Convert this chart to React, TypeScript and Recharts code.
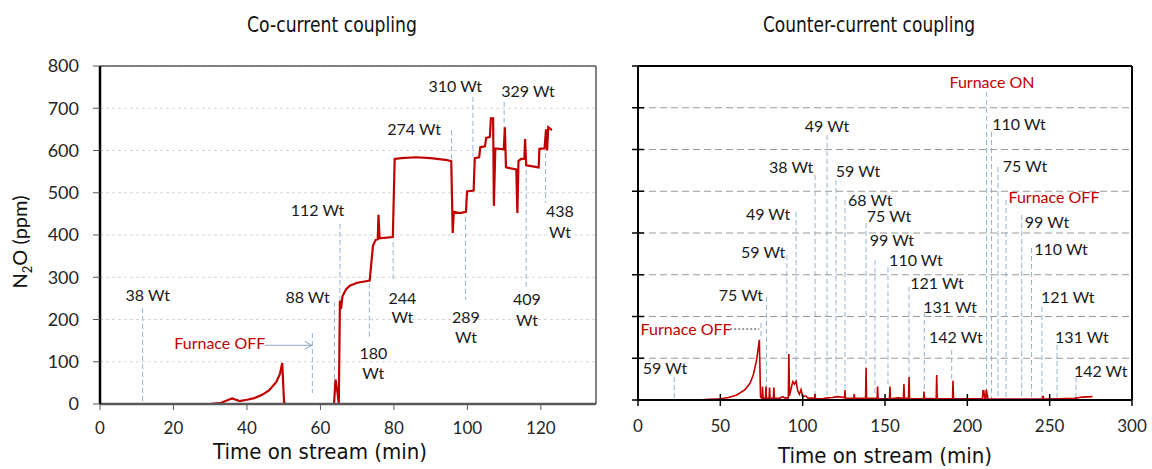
import React from "react";
import {
  LineChart,
  Line,
  XAxis,
  YAxis,
  CartesianGrid,
  ReferenceLine,
  ReferenceDot,
} from "recharts";

// co-current coupling: time on stream (min) / N2O (ppm)
const coTime = [
  12, 30, 33, 35, 36, 37, 38, 40, 42, 44, 46, 48, 49, 49.6, 50.1, 50.6, 63.7, 64.1, 64.6, 65.0,
  65.3, 65.6, 66, 67, 68, 70, 72, 73.4, 74.3, 75, 75.6, 75.8, 76.1, 79.7, 80.2, 82, 86, 90, 94,
  95.6, 96, 96.3, 98, 99.6, 99.9, 101.7, 102, 103.2, 103.5, 104.8, 105.1, 106.1, 106.4, 107,
  107.2, 107.6, 109.9, 110.2, 110.5, 113.3, 113.6, 113.9, 114.6, 115.5, 115.7, 116, 119.4, 119.6,
  121, 121.4, 121.7, 122, 123,
];
const coN2O = [
  0, 0, 3, 10, 13, 10, 7, 10, 14, 21, 32, 52, 72, 97, 3, 0, 0, 58, 30, 0,
  245, 225, 255, 272, 280, 287, 290, 292, 375, 388, 390, 448, 392, 395, 580, 582, 584, 582, 578,
  575, 405, 455, 452, 455, 503, 505, 582, 584, 608, 610, 630, 632, 676, 676,
  469, 605, 603, 655, 560, 555, 452, 575, 580, 580, 627, 565, 560, 604,
  605, 650, 600, 655, 648,
];

// counter-current coupling
const ctrTime = [
  20, 40, 50, 55, 60, 65, 68, 70, 72, 73.7, 74.4, 75.3,
  75.6, 76, 77.4, 77.7, 78, 79.6, 79.9, 80.2, 82.2, 82.5, 82.8,
  86, 88, 89, 91.3, 91.6, 92, 93, 94, 95, 96, 97, 98, 99, 100, 102, 103,
  107.2, 107.5, 107.8, 112, 115, 118, 121, 125.4, 125.7, 126, 131, 131.3, 131.6,
  138.2, 138.5, 138.8, 145.2, 145.5, 145.8, 152.7, 153, 153.3, 158, 161.2, 161.5, 161.8,
  164.3, 164.6, 164.9, 173.4, 173.7, 174, 181.1, 181.4, 181.7, 191, 191.3, 191.6,
  209.2, 209.5, 210, 210.5, 211.2, 211.5, 212.5, 230, 245.7, 246, 246.3, 255, 265, 270, 276,
];
const ctrN2O = [
  0, 1, 3, 6, 12, 25, 40, 60, 95, 144, 8, 3,
  32, 4, 4, 32, 4, 4, 30, 4, 4, 30, 4,
  4, 8, 5, 5, 110, 10, 28, 44, 38, 45, 22, 14, 25, 8, 10, 5,
  4, 15, 3, 3, 5, 6, 8, 6, 24, 4, 4, 14, 4,
  4, 77, 4, 4, 32, 3, 3, 32, 3, 5, 4, 38, 4,
  4, 55, 3, 3, 20, 4, 3, 60, 3, 3, 46, 3,
  3, 22, 22, 4, 4, 25, 3, 2, 2, 10, 2, 3, 4, 7, 8,
];

const yTicks = [0, 100, 200, 300, 400, 500, 600, 700, 800];
const coXTicks = [0, 20, 40, 60, 80, 100, 120];
const ctrXTicks = [0, 50, 100, 150, 200, 250, 300];

// marker lines: time, from, to (ppm)
const coMarkers = [
  { t: 11.6, from: 227, to: 0 },
  { t: 57.8, from: 168, to: 26 },
  { t: 63.8, from: 241, to: 0 },
  { t: 65.3, from: 426, to: 246 },
  { t: 73.3, from: 285, to: 158 },
  { t: 79.8, from: 383, to: 289 },
  { t: 95.7, from: 648, to: 573 },
  { t: 99.5, from: 443, to: 246 },
  { t: 101.5, from: 727, to: 585 },
  { t: 110, from: 715, to: 648 },
  { t: 116, from: 554, to: 270 },
  { t: 121.3, from: 594, to: 476 },
];
const coLabels = [
  { t: 13, v: 258, text: "38 Wt" },
  { t: 32.6, v: 144, text: "Furnace OFF", red: true },
  { t: 56.5, v: 253, text: "88 Wt" },
  { t: 59.2, v: 459, text: "112 Wt" },
  { t: 74.4, v: 121, text: "180" },
  { t: 74.4, v: 73, text: "Wt" },
  { t: 82.3, v: 251, text: "244" },
  { t: 82.3, v: 204, text: "Wt" },
  { t: 85.5, v: 651, text: "274 Wt" },
  { t: 99.6, v: 206, text: "289" },
  { t: 99.6, v: 159, text: "Wt" },
  { t: 96.7, v: 753, text: "310 Wt" },
  { t: 116.5, v: 741, text: "329 Wt" },
  { t: 116.2, v: 248, text: "409" },
  { t: 116.2, v: 199, text: "Wt" },
  { t: 125.2, v: 457, text: "438" },
  { t: 125.2, v: 407, text: "Wt" },
];
const coArrow = { from: 44.8, to: 57.6, v: 139 };

const ctrMarkers = [
  { t: 22, from: 55, to: 0 },
  { t: 74.7, from: 184, to: 144 },
  { t: 78, from: 247, to: 24 },
  { t: 90.4, from: 347, to: 110 },
  { t: 96, from: 450, to: 53 },
  { t: 107.5, from: 539, to: 12 },
  { t: 114.8, from: 635, to: 12 },
  { t: 120.2, from: 527, to: 10 },
  { t: 125.7, from: 479, to: 24 },
  { t: 138.5, from: 424, to: 77 },
  { t: 143.9, from: 335, to: 10 },
  { t: 151.8, from: 318, to: 32 },
  { t: 164.6, from: 271, to: 55 },
  { t: 173.9, from: 211, to: 20 },
  { t: 190.5, from: 120, to: 46 },
  { t: 211.7, from: 738, to: 0 },
  { t: 214.7, from: 642, to: 0 },
  { t: 218.6, from: 558, to: 0 },
  { t: 223.5, from: 479, to: 0 },
  { t: 233, from: 443, to: 0 },
  { t: 239, from: 364, to: 0 },
  { t: 245.3, from: 223, to: 0 },
  { t: 254.5, from: 132, to: 0 },
  { t: 266, from: 55, to: 0 },
];
const ctrLabels = [
  { t: 16.4, v: 77, text: "59 Wt" },
  { t: 29.2, v: 170, text: "Furnace OFF", red: true },
  { t: 62.5, v: 251, text: "75 Wt" },
  { t: 76, v: 354, text: "59 Wt" },
  { t: 79, v: 445, text: "49 Wt" },
  { t: 93, v: 558, text: "38 Wt" },
  { t: 114.8, v: 656, text: "49 Wt" },
  { t: 133.6, v: 548, text: "59 Wt" },
  { t: 141, v: 479, text: "68 Wt" },
  { t: 152.4, v: 441, text: "75 Wt" },
  { t: 154.2, v: 383, text: "99 Wt" },
  { t: 168.8, v: 335, text: "110 Wt" },
  { t: 181.6, v: 280, text: "121 Wt" },
  { t: 189.5, v: 223, text: "131 Wt" },
  { t: 193, v: 149, text: "142 Wt" },
  { t: 215, v: 762, text: "Furnace ON", red: true },
  { t: 231.4, v: 661, text: "110 Wt" },
  { t: 235, v: 560, text: "75 Wt" },
  { t: 252.6, v: 486, text: "Furnace OFF", red: true },
  { t: 248.4, v: 426, text: "99 Wt" },
  { t: 256.9, v: 362, text: "110 Wt" },
  { t: 261, v: 247, text: "121 Wt" },
  { t: 269.6, v: 151, text: "131 Wt" },
  { t: 281, v: 69, text: "142 Wt" },
];
const ctrOffLine = { from: 56, to: 73.7, v: 170 };

const coData = coTime.map((t, i) => ({ t, v: coN2O[i] }));
const ctrData = ctrTime.map((t, i) => ({ t, v: ctrN2O[i] }));

const FONT = "Lato, 'Open Sans', sans-serif";
const COND = "'DejaVu Sans Condensed', 'DejaVu Sans', sans-serif";
const RED = "#c00000";
const MARK = "#93b3d3";
const tickStyle = { fill: "#262626", fontSize: 17, fontFamily: FONT };

function labelDots(labels: { t: number; v: number; text: string; red?: boolean }[]) {
  return labels.map((l, i) => (
    <ReferenceDot
      key={"l" + i}
      x={l.t}
      y={l.v}
      r={0.5}
      fill="none"
      stroke="none"
      label={{
        value: l.text,
        position: "center",
        fill: l.red ? RED : "#1a1a1a",
        fontSize: 16,
        fontFamily: FONT,
      }}
    />
  ));
}

function markerLines(markers: { t: number; from: number; to: number }[]) {
  return markers.map((m, i) => (
    <ReferenceLine
      key={"m" + i}
      segment={[
        { x: m.t, y: m.from },
        { x: m.t, y: m.to },
      ]}
      stroke={MARK}
      strokeWidth={1}
      strokeDasharray="5 3"
    />
  ));
}

const arrowShape = (p: any) => (
  <g>
    <line x1={p.x1} y1={p.y1} x2={p.x2} y2={p.y2} stroke="#8aa7c4" strokeWidth={1} />
    <path
      d={`M${p.x2 - 7},${p.y2 - 4} L${p.x2},${p.y2} L${p.x2 - 7},${p.y2 + 4}`}
      fill="none"
      stroke="#8aa7c4"
      strokeWidth={1}
    />
  </g>
);

// crossing tick marks for the counter-current panel
const crossXTick = (p: any) => (
  <g>
    <line x1={p.x} x2={p.x} y1={p.y - 6} y2={p.y + 6} stroke="#000" strokeWidth={1.5} />
    <text x={p.x} y={p.y + 32} textAnchor="middle" {...tickStyle}>
      {p.payload.value}
    </text>
  </g>
);
const crossYTick = (p: any) => (
  <line x1={p.x - 6} x2={p.x + 6} y1={p.y} y2={p.y} stroke="#000" strokeWidth={1.5} />
);

function CoChart() {
  return (
    <LineChart
      width={620}
      height={469}
      data={coData}
      margin={{ top: 66, right: 24, bottom: 35, left: 60 }}
    >
      <CartesianGrid horizontal vertical={false} stroke="#d6d6d6" strokeDasharray="3 3" />
      <XAxis
        dataKey="t"
        type="number"
        domain={[0, 135]}
        ticks={coXTicks}
        height={30}
        tick={tickStyle}
        tickSize={6}
        tickMargin={12}
        axisLine={{ stroke: "#595959", strokeWidth: 2.5 }}
        tickLine={{ stroke: "#595959" }}
      />
      <YAxis
        type="number"
        domain={[0, 800]}
        ticks={yTicks}
        width={40}
        tick={{ ...tickStyle, fontSize: 18 }}
        tickSize={7}
        tickMargin={14}
        axisLine={{ stroke: "#000", strokeWidth: 2.5 }}
        tickLine={{ stroke: "#595959" }}
      />
      <ReferenceLine y={800} stroke="#595959" strokeWidth={1.5} />
      <ReferenceLine x={135} stroke="#595959" strokeWidth={1.5} />
      {markerLines(coMarkers)}
      <ReferenceLine
        segment={[
          { x: coArrow.from, y: coArrow.v },
          { x: coArrow.to, y: coArrow.v },
        ]}
        shape={arrowShape}
      />
      <Line
        dataKey="v"
        type="linear"
        stroke={RED}
        strokeWidth={2.2}
        dot={false}
        isAnimationActive={false}
      />
      {labelDots(coLabels)}
    </LineChart>
  );
}

function CtrChart() {
  return (
    <LineChart
      width={572}
      height={469}
      data={ctrData}
      margin={{ top: 66, right: 20, bottom: 39, left: 18 }}
    >
      <CartesianGrid horizontal vertical={false} stroke="#9a9a9a" strokeDasharray="7 4" />
      <XAxis
        dataKey="t"
        type="number"
        domain={[0, 300]}
        ticks={ctrXTicks}
        height={30}
        tick={crossXTick}
        tickSize={0}
        tickMargin={0}
        axisLine={{ stroke: "#000", strokeWidth: 2 }}
        tickLine={false}
      />
      <YAxis
        type="number"
        domain={[0, 800]}
        ticks={yTicks}
        width={40}
        tick={crossYTick}
        tickSize={0}
        tickMargin={0}
        axisLine={{ stroke: "#000", strokeWidth: 2 }}
        tickLine={false}
      />
      <ReferenceLine y={800} stroke="#000" strokeWidth={2} />
      <ReferenceLine x={300} stroke="#000" strokeWidth={2} />
      {markerLines(ctrMarkers)}
      <ReferenceLine
        segment={[
          { x: ctrOffLine.from, y: ctrOffLine.v },
          { x: ctrOffLine.to, y: ctrOffLine.v },
        ]}
        stroke="#333"
        strokeWidth={1}
        strokeDasharray="2 2"
      />
      <Line
        dataKey="v"
        type="linear"
        stroke={RED}
        strokeWidth={1.6}
        dot={false}
        isAnimationActive={false}
      />
      {labelDots(ctrLabels)}
    </LineChart>
  );
}

const titleStyle: React.CSSProperties = {
  position: "absolute",
  fontFamily: COND,
  fontSize: 22,
  lineHeight: "24px",
  color: "#111",
  textAlign: "center",
  whiteSpace: "nowrap",
};

export default function App() {
  return (
    <div
      style={{
        position: "absolute",
        left: 0,
        top: 0,
        width: 1152,
        height: 469,
        background: "#fff",
        overflow: "hidden",
      }}
    >
      <div style={{ position: "absolute", left: 0, top: 0 }}>
        <CoChart />
      </div>
      <div style={{ position: "absolute", left: 580, top: 0 }}>
        <CtrChart />
      </div>
      <div style={{ ...titleStyle, left: 207, width: 250, top: 13, transform: "scaleX(0.87)" }}>
        Co-current coupling
      </div>
      <div style={{ ...titleStyle, left: 719, width: 300, top: 13, transform: "scaleX(0.86)" }}>
        Counter-current coupling
      </div>
      <div style={{ ...titleStyle, left: 200, width: 240, top: 440 }}>Time on stream (min)</div>
      <div style={{ ...titleStyle, left: 765, width: 240, top: 444 }}>Time on stream (min)</div>
      <div
        style={{
          ...titleStyle,
          fontFamily: FONT,
          fontSize: 20,
          left: -37,
          width: 120,
          top: 226,
          transform: "rotate(-90deg)",
        }}
      >
        N<sub style={{ fontSize: 13 }}>2</sub>O (ppm)
      </div>
    </div>
  );
}
